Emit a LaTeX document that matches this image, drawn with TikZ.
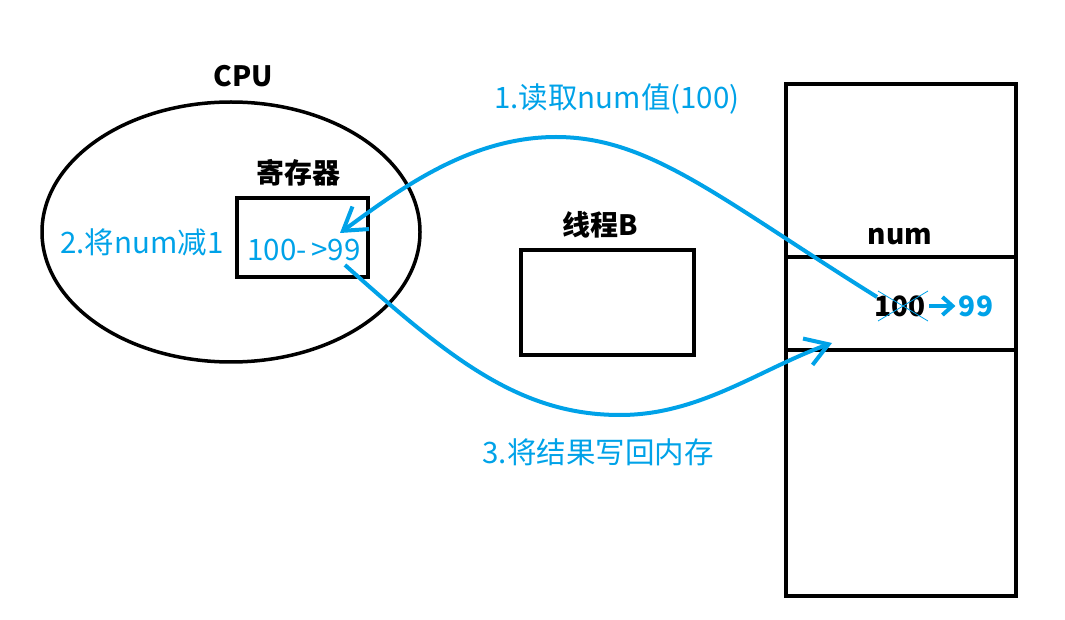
\documentclass[tikz,border=0pt]{standalone}
\usepackage{fontspec}
\setmainfont{Noto Sans CJK SC}
\usetikzlibrary{arrows.meta,positioning,shapes.geometric}
\definecolor{paintblue}{RGB}{0,162,232}

\begin{document}
\begin{tikzpicture}[x=1pt,y=1pt,
    blk/.style={draw,line width=4pt},
    lbl/.style={font=\fontsize{28}{32}\selectfont\bfseries},
    note/.style={text=paintblue,font=\fontsize{29.5}{33}\selectfont},
    flow/.style={draw=paintblue,line width=4pt,
      -{Straight Barb[length=22pt,width=28pt]}}]
  \useasboundingbox (0,0) rectangle (1065,619);
  % cpu with its register
  \node[ellipse,draw,line width=3.5pt,minimum width=378pt,minimum height=260pt] (cpu) at (231,387) {};
  \node[lbl] (cpulbl) at (243,543) {CPU};
  \node[blk,minimum width=131pt,minimum height=79pt] (reg) at (302.5,381.5) {};
  \node[lbl] (reglbl) at (298,446) {寄存器};
  \node[note] (regval) at (304,369) {100-{\,}>99};
  \node[note] (dec) at (142,377) {2.将num减1};
  % thread B
  \node[blk,minimum width=173pt,minimum height=105pt] (thb) at (607.5,316.5) {};
  \node[lbl] (thblbl) at (600,394) {线程B};
  % memory
  \node[blk,minimum width=230pt,minimum height=512pt] (mem) at (901,279) {};
  \draw[line width=4pt] (mem.west |- 0,362) -- (mem.east |- 0,362);
  \draw[line width=4pt] (mem.west |- 0,269) -- (mem.east |- 0,269);
  \node[lbl] (numlbl) at (900,382) {num};
  \node[lbl] (old) at (900,313) {100};
  \node[lbl,text=paintblue] (new) at (976,313) {99};
  \draw[paintblue,line width=0.8pt] (878,328) -- (928,298) (878,298) -- (928,328);
  \draw[paintblue,line width=4pt,-{Straight Barb[length=10pt,width=18pt]}] (old.east) -- (new.west);
  % read and write back
  \coordinate (rd) at (877,322);
  \coordinate (rdtip) at (340,386);
  \coordinate (wb) at (345,354);
  \coordinate (wbtip) at (832,276);
  \draw[flow] (rd) .. controls (720,420) and (650,482) .. (556,482)
    .. controls (470,482) and (400,430) .. (rdtip);
  \draw[flow] (wb) .. controls (450,260) and (520,204) .. (620,204)
    .. controls (700,204) and (760,250) .. (wbtip);
  \node[note] (rdlbl) at (617,520) {1.读取num值(100)};
  \node[note] (wblbl) at (598,167) {3.将结果写回内存};
\end{tikzpicture}
\end{document}
